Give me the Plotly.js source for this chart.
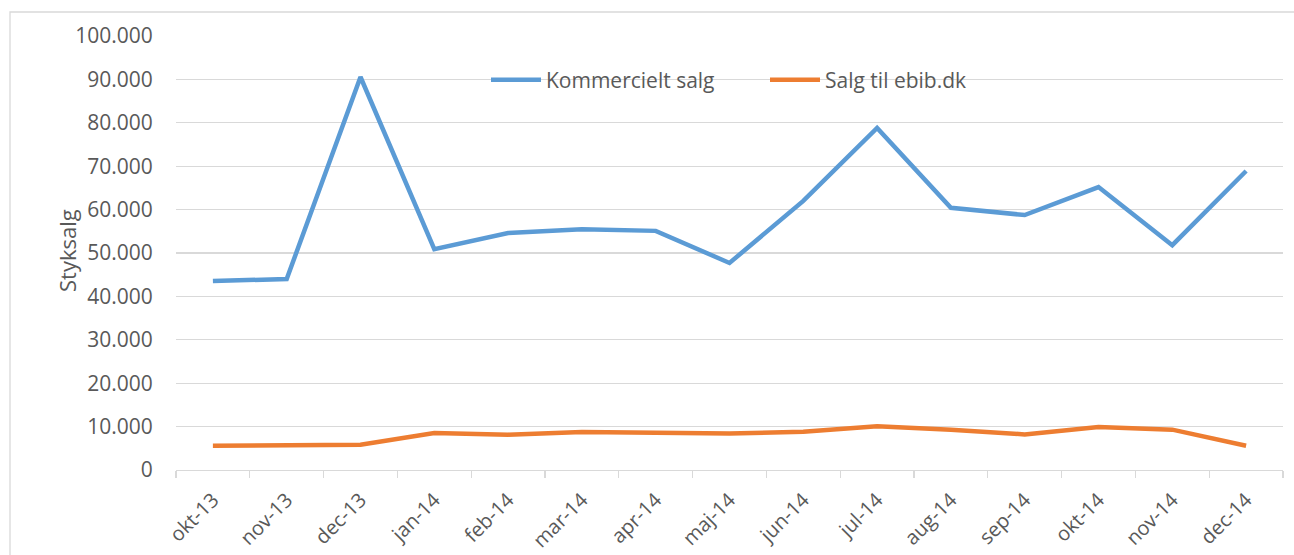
<!DOCTYPE html>
<html>
<head>
<meta charset="utf-8">
<script src="https://cdn.plot.ly/plotly-3.0.1.min.js"></script>
<style>
  html, body { margin: 0; padding: 0; background: #fff; }
  #chart { width: 1294px; height: 555px; }
</style>
</head>
<body>
<div id="chart"></div>
<script>
const months = ["okt-13","nov-13","dec-13","jan-14","feb-14","mar-14","apr-14","maj-14","jun-14","jul-14","aug-14","sep-14","okt-14","nov-14","dec-14"];
const kommercieltSalg = [43550, 44000, 90550, 50900, 54600, 55500, 55100, 47700, 62000, 78800, 60400, 58750, 65200, 51800, 68900];
const salgTilEbib = [5600, 5750, 5800, 8500, 8150, 8750, 8650, 8400, 8800, 10100, 9300, 8200, 9900, 9300, 5600];
const seriesNames = ["Kommercielt salg", "Salg til ebib.dk"];
const yTicks = [0, 10000, 20000, 30000, 40000, 50000, 60000, 70000, 80000, 90000, 100000];

const W = 1294, H = 555;
const mL = 176, mR = 11, mT = 36, mB = 85;
const pw = W - mL - mR, ph = H - mT - mB;
const px = x => (x - mL) / pw;
const py = y => (H - mB - y) / ph;

const fontFam = "'Open Sans', 'Noto Sans', sans-serif";
const txtColor = "#595959";
const fs = 21;

const traces = [
  { x: months, y: kommercieltSalg, name: seriesNames[0], type: "scatter", mode: "lines",
    line: { color: "#5B9BD5", width: 4.5 } },
  { x: months, y: salgTilEbib, name: seriesNames[1], type: "scatter", mode: "lines",
    line: { color: "#ED7D31", width: 4.5 } }
];

const layout = {
  width: W, height: H,
  margin: { l: mL, r: mR, t: mT, b: mB, pad: 0 },
  paper_bgcolor: "#fff", plot_bgcolor: "#fff",
  font: { family: fontFam, color: txtColor, size: fs },
  separators: ",.",
  showlegend: true,
  legend: {
    orientation: "h", x: px(486), xanchor: "left", y: py(80), yanchor: "middle",
    bgcolor: "rgba(0,0,0,0)", font: { size: fs, color: txtColor },
    entrywidth: 214, entrywidthmode: "pixels",
    itemwidth: 50, tracegroupgap: 0, itemclick: false
  },
  xaxis: {
    type: "category", range: [-0.5, months.length - 0.5],
    tickangle: -45, tickson: "boundaries", ticks: "outside", ticklen: 7,
    tickcolor: "#d9d9d9", tickwidth: 1.3, ticklabelstandoff: 9,
    showline: true, linecolor: "#d9d9d9", linewidth: 1.3,
    showgrid: false, zeroline: false, fixedrange: true,
    tickfont: { size: 20, color: txtColor }
  },
  yaxis: {
    range: [0, 100000], tickvals: yTicks, tickformat: ",d",
    ticks: "outside", ticklen: 18, tickcolor: "rgba(0,0,0,0)",
    showgrid: true, gridcolor: "#d9d9d9", gridwidth: 1.3,
    zeroline: false, showline: false, fixedrange: true,
    tickfont: { size: fs, color: txtColor }
  },
  annotations: [
    { text: "Styksalg", xref: "paper", yref: "paper", x: px(67), y: py(251),
      xanchor: "center", yanchor: "middle", textangle: -90, showarrow: false,
      font: { size: 22, color: txtColor } }
  ],
  shapes: [
    { type: "rect", xref: "paper", yref: "paper",
      x0: px(10), x1: px(1310), y0: py(570), y1: py(12),
      line: { color: "#d9d9d9", width: 1.3 }, fillcolor: "rgba(0,0,0,0)", layer: "below" }
  ]
};

Plotly.newPlot("chart", traces, layout, { displayModeBar: false, staticPlot: true });
</script>
</body>
</html>
